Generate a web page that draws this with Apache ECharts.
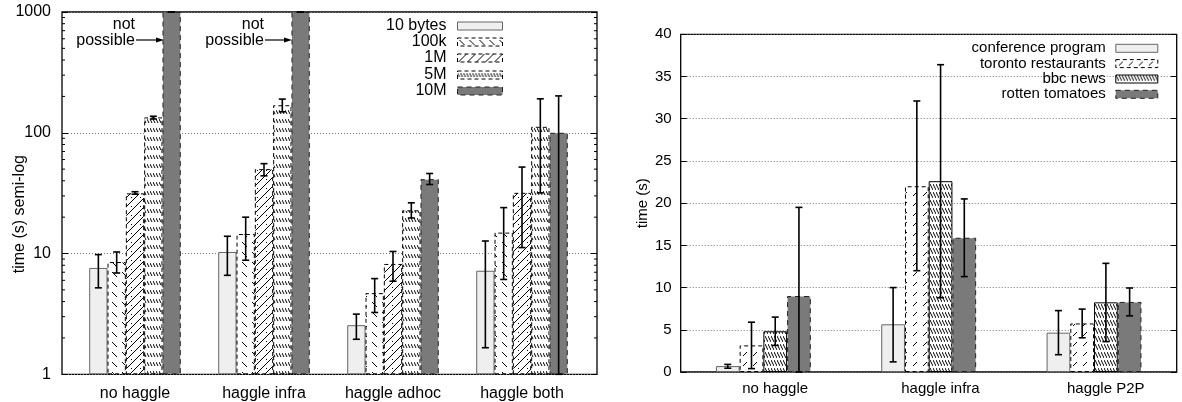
<!DOCTYPE html>
<html>
<head>
<meta charset="utf-8">
<script src="https://cdn.jsdelivr.net/npm/echarts@6/dist/echarts.min.js"></script>
<style>
html,body{margin:0;padding:0;background:#fff;}
#main{width:1182px;height:402px;}
</style>
</head>
<body>
<div id="main"></div>
<script>
// ---------- DATA ----------
const leftCats = ['no haggle', 'haggle infra', 'haggle adhoc', 'haggle both'];
const leftNames = ['10 bytes', '100k', '1M', '5M', '10M'];
const v10bytes = [7.6, 10.3, 2.55, 7.2];
const v100k = [8.5, 14.5, 4.7, 14.9];
const v1M = [31.5, 50, 8.2, 31.8];
const v5M = [134, 169, 22.8, 112];
const v10M = [1000, 1000, 41.3, 100];
const e10bytes = [[5.2, 9.8], [6.6, 13.9], [1.95, 3.15], [1.66, 12.7]];
const e100k = [[6.9, 10.3], [8.8, 20], [3.25, 6.2], [6.1, 24]];
const e1M = [[31, 32.5], [44, 55.5], [5.9, 10.4], [11.2, 52]];
const e5M = [[130, 137], [149, 190], [19.7, 26.3], [31.8, 191]];
const e10M = [[1000, 1000], [1000, 1000], [37.3, 46], [1, 202]];
const leftTicks = [1, 10, 100, 1000];
const leftMinorTicks = [2, 3, 4, 5, 6, 7, 8, 9, 20, 30, 40, 50, 60, 70, 80, 90, 200, 300, 400, 500, 600, 700, 800, 900];

const rightCats = ['no haggle', 'haggle infra', 'haggle P2P'];
const rightNames = ['conference program', 'toronto restaurants', 'bbc news', 'rotten tomatoes'];
const vConference = [0.7, 5.65, 4.66];
const vToronto = [3.15, 22.0, 5.75];
const vBbc = [4.82, 22.6, 8.25];
const vRotten = [9.0, 15.9, 8.3];
const eConference = [[0.45, 0.9], [1.2, 10], [2.05, 7.27]];
const eToronto = [[0.4, 5.9], [12, 32.1], [4.05, 7.45]];
const eBbc = [[3.15, 6.5], [8.8, 36.4], [3.6, 12.87]];
const eRotten = [[0, 19.5], [11.3, 20.5], [6.65, 9.95]];

// ---------- STYLE HELPERS ----------
const FONT = 'Liberation Sans, Arial, Helvetica, sans-serif';
const FSL = 16;   // left chart font size
const FSR = 15;   // right chart font size

function makePattern(w, h, draw) {
  const c = document.createElement('canvas');
  c.width = w; c.height = h;
  const ctx = c.getContext('2d');
  ctx.fillStyle = '#fff';
  ctx.fillRect(0, 0, w, h);
  ctx.strokeStyle = '#000';
  ctx.lineWidth = 1;
  draw(ctx);
  return { image: c, repeat: 'repeat' };
}
function seg(ctx, x1, y1, x2, y2) { ctx.beginPath(); ctx.moveTo(x1, y1); ctx.lineTo(x2, y2); ctx.stroke(); }

const pat100k = makePattern(10, 10, ctx => { seg(ctx, 2, 2, 7, 7); });
const pat1M = makePattern(9, 9, ctx => { seg(ctx, -1, 10, 10, -1); seg(ctx, 5, 8, 7, 10); });
const pat5M = makePattern(3, 9, ctx => { seg(ctx, 0, 2, 2, 6); });
const patToronto = makePattern(10, 10, ctx => { seg(ctx, 7, 2, 3, 6); });
const patBbc = makePattern(3, 8, ctx => { seg(ctx, 0, 0, 3, 6); });

const leftStyles = [
  { color: '#efefef', borderColor: '#666', borderWidth: 1, borderType: 'solid' },
  { color: pat100k, borderColor: '#000', borderWidth: 1, borderType: [4, 3] },
  { color: pat1M, borderColor: '#000', borderWidth: 1, borderType: [4, 3] },
  { color: pat5M, borderColor: '#000', borderWidth: 1, borderType: [4, 3] },
  { color: '#7a7a7a', borderColor: '#222', borderWidth: 1, borderType: [5, 4] }
];
const rightStyles = [
  { color: '#efefef', borderColor: '#666', borderWidth: 1, borderType: 'solid' },
  { color: patToronto, borderColor: '#000', borderWidth: 1, borderType: [4, 3] },
  { color: patBbc, borderColor: '#000', borderWidth: 1, borderType: 'solid' },
  { color: '#7a7a7a', borderColor: '#222', borderWidth: 1, borderType: [5, 4] }
];

const leftVals = [v10bytes, v100k, v1M, v5M, v10M];
const leftErrs = [e10bytes, e100k, e1M, e5M, e10M];
const rightVals = [vConference, vToronto, vBbc, vRotten];
const rightErrs = [eConference, eToronto, eBbc, eRotten];

const LEFT_GAP = 0.29;
const RIGHT_GAP = 0.426;

function errRender(n, gapFrac) {
  return function (params, api) {
    const i = api.value(0), lo = api.value(1), hi = api.value(2), j = api.value(3);
    const pLo = api.coord([i, lo]);
    const pHi = api.coord([i, hi]);
    const band = api.size([1, 0])[0];
    const bw = band * (1 - gapFrac) / n;
    const x = pLo[0] + (j - (n - 1) / 2) * bw;
    const cap = 3.5;
    const st = { stroke: '#000', lineWidth: 1.6 };
    return {
      type: 'group',
      children: [
        { type: 'line', shape: { x1: x, y1: pLo[1], x2: x, y2: pHi[1] }, style: st },
        { type: 'line', shape: { x1: x - cap, y1: pLo[1], x2: x + cap, y2: pLo[1] }, style: st },
        { type: 'line', shape: { x1: x - cap, y1: pHi[1], x2: x + cap, y2: pHi[1] }, style: st }
      ]
    };
  };
}

function minorRender(params, api) {
  const y = api.coord([0, api.value(1)])[1];
  const cs = params.coordSys;
  const st = { stroke: '#000', lineWidth: 1 };
  return {
    type: 'group',
    children: [
      { type: 'line', shape: { x1: cs.x, y1: y, x2: cs.x + 3, y2: y }, style: st },
      { type: 'line', shape: { x1: cs.x + cs.width - 3, y1: y, x2: cs.x + cs.width, y2: y }, style: st }
    ]
  };
}

// ---------- SERIES ----------
const series = [];
leftNames.forEach((name, j) => {
  series.push({
    name: name, type: 'bar', xAxisIndex: 1, yAxisIndex: 2,
    data: leftVals[j], barGap: '0%', barCategoryGap: (LEFT_GAP * 100) + '%',
    itemStyle: leftStyles[j], emphasis: { disabled: true }, animation: false
  });
});
const leftErrData = [];
leftErrs.forEach((arr, j) => arr.forEach((e, i) => leftErrData.push([i, e[0], e[1], j])));
series.push({
  name: 'left-errors', type: 'custom', xAxisIndex: 1, yAxisIndex: 2,
  renderItem: errRender(leftNames.length, LEFT_GAP), data: leftErrData, z: 5, animation: false, silent: true
});
series.push({
  name: 'left-minor', type: 'custom', xAxisIndex: 0, yAxisIndex: 0,
  renderItem: minorRender, data: leftMinorTicks.map(v => [0, v]), z: 6, animation: false, silent: true
});
rightNames.forEach((name, j) => {
  series.push({
    name: name, type: 'bar', xAxisIndex: 2, yAxisIndex: 3,
    data: rightVals[j], barGap: '0%', barCategoryGap: (RIGHT_GAP * 100) + '%',
    itemStyle: rightStyles[j], emphasis: { disabled: true }, animation: false
  });
});
const rightErrData = [];
rightErrs.forEach((arr, j) => arr.forEach((e, i) => rightErrData.push([i, e[0], e[1], j])));
series.push({
  name: 'right-errors', type: 'custom', xAxisIndex: 2, yAxisIndex: 3,
  renderItem: errRender(rightNames.length, RIGHT_GAP), data: rightErrData, z: 5, animation: false, silent: true
});

// ---------- LEGENDS (one per entry, right-aligned) ----------
const legends = [];
const leftLegendTops = [26, 42, 58, 75, 91];
leftNames.forEach((name, j) => {
  const s = leftStyles[j];
  legends.push({
    data: [name], orient: 'vertical', align: 'right', right: 1182 - 503, top: leftLegendTops[j] - 8,
    itemWidth: 45, itemHeight: 8, padding: 0, selectedMode: false, icon: 'rect',
    itemStyle: { color: s.color, borderColor: s.borderColor, borderWidth: 1, borderType: s.borderType },
    textStyle: { fontSize: FSL, fontFamily: FONT, color: '#000', lineHeight: 16, padding: [0, 6, 0, 0] }
  });
});
const rightLegendTops = [48.3, 63.6, 79, 94.3];
rightNames.forEach((name, j) => {
  const s = rightStyles[j];
  legends.push({
    data: [name], orient: 'vertical', align: 'right', right: 1182 - 1158.3, top: rightLegendTops[j] - 8,
    itemWidth: 42, itemHeight: 8, padding: 0, selectedMode: false, icon: 'rect',
    itemStyle: { color: s.color, borderColor: s.borderColor, borderWidth: 1, borderType: s.borderType },
    textStyle: { fontSize: FSR, fontFamily: FONT, color: '#000', lineHeight: 16, padding: [0, 5, 0, 0] }
  });
});

const dotted = { show: true, lineStyle: { color: '#777', type: [1, 2], width: 1 } };
const tickIn = { show: true, inside: true, length: 6, lineStyle: { color: '#000', width: 1 } };
const lblL = { color: '#000', fontSize: FSL, fontFamily: FONT };
const lblR = { color: '#000', fontSize: FSR, fontFamily: FONT };

const option = {
  backgroundColor: '#fff',
  animation: false,
  textStyle: { fontFamily: FONT },
  grid: [
    { left: 62, top: 12, width: 535, height: 362.3, show: true, borderColor: '#000', borderWidth: 1.3, backgroundColor: 'transparent', containLabel: false },
    { left: 70.5, top: 12, width: 516, height: 362.3, containLabel: false },
    { left: 680.7, top: 34.3, width: 496, height: 337.7, show: true, borderColor: '#000', borderWidth: 1.3, backgroundColor: 'transparent', containLabel: false }
  ],
  xAxis: [
    { gridIndex: 0, type: 'category', data: [''], show: false },
    { gridIndex: 1, type: 'category', data: leftCats, axisLine: { show: false }, axisTick: { show: false },
      axisLabel: Object.assign({ margin: 11 }, lblL) },
    { gridIndex: 2, type: 'category', data: rightCats, axisLine: { show: false }, axisTick: { show: false },
      axisLabel: Object.assign({ margin: 9, padding: [0, 0, 0, 23.5] }, lblR) }
  ],
  yAxis: [
    { gridIndex: 0, type: 'log', logBase: 10, min: leftTicks[0], max: leftTicks[leftTicks.length - 1],
      axisLine: { show: false }, axisTick: tickIn, splitLine: dotted,
      axisLabel: Object.assign({ margin: 11, formatter: v => String(Math.round(v)) }, lblL),
      name: 'time (s) semi-log', nameLocation: 'middle', nameRotate: 90, nameGap: 34, nameMoveOverlap: false,
      nameTextStyle: { fontSize: FSL, fontFamily: FONT, color: '#000', padding: [0, 42, 0, 0] } },
    { gridIndex: 0, type: 'log', logBase: 10, min: 1, max: 1000, position: 'right',
      axisLine: { show: false }, axisTick: tickIn, splitLine: { show: false }, axisLabel: { show: false } },
    { gridIndex: 1, type: 'log', logBase: 10, min: 1, max: 1000, show: false, splitLine: { show: false } },
    { gridIndex: 2, type: 'value', min: 0, max: 40, interval: 5,
      axisLine: { show: false }, axisTick: tickIn, splitLine: dotted,
      axisLabel: Object.assign({ margin: 9 }, lblR),
      name: 'time (s)', nameLocation: 'middle', nameRotate: 90, nameGap: 30, nameMoveOverlap: false,
      nameTextStyle: { fontSize: FSR, fontFamily: FONT, color: '#000' } },
    { gridIndex: 2, type: 'value', min: 0, max: 40, interval: 5, position: 'right',
      axisLine: { show: false }, axisTick: tickIn, splitLine: { show: false }, axisLabel: { show: false } }
  ],
  legend: legends,
  series: series,
  graphic: [
    { type: 'text', x: 135, y: 25, style: { text: 'not', fill: '#000', font: FSL + 'px ' + FONT, textAlign: 'right', textVerticalAlign: 'middle' } },
    { type: 'text', x: 135, y: 41, style: { text: 'possible', fill: '#000', font: FSL + 'px ' + FONT, textAlign: 'right', textVerticalAlign: 'middle' } },
    { type: 'line', shape: { x1: 136, y1: 40, x2: 158, y2: 40 }, style: { stroke: '#000', lineWidth: 1.2 } },
    { type: 'polygon', shape: { points: [[156, 37.5], [164, 40], [156, 42.5]] }, style: { fill: '#000' } },
    { type: 'text', x: 264, y: 25, style: { text: 'not', fill: '#000', font: FSL + 'px ' + FONT, textAlign: 'right', textVerticalAlign: 'middle' } },
    { type: 'text', x: 264, y: 41, style: { text: 'possible', fill: '#000', font: FSL + 'px ' + FONT, textAlign: 'right', textVerticalAlign: 'middle' } },
    { type: 'line', shape: { x1: 265, y1: 40, x2: 286, y2: 40 }, style: { stroke: '#000', lineWidth: 1.2 } },
    { type: 'polygon', shape: { points: [[284, 37.5], [292, 40], [284, 42.5]] }, style: { fill: '#000' } }
  ]
};

const chart = echarts.init(document.getElementById('main'), null, { renderer: 'canvas' });
chart.setOption(option);
</script>
</body>
</html>
